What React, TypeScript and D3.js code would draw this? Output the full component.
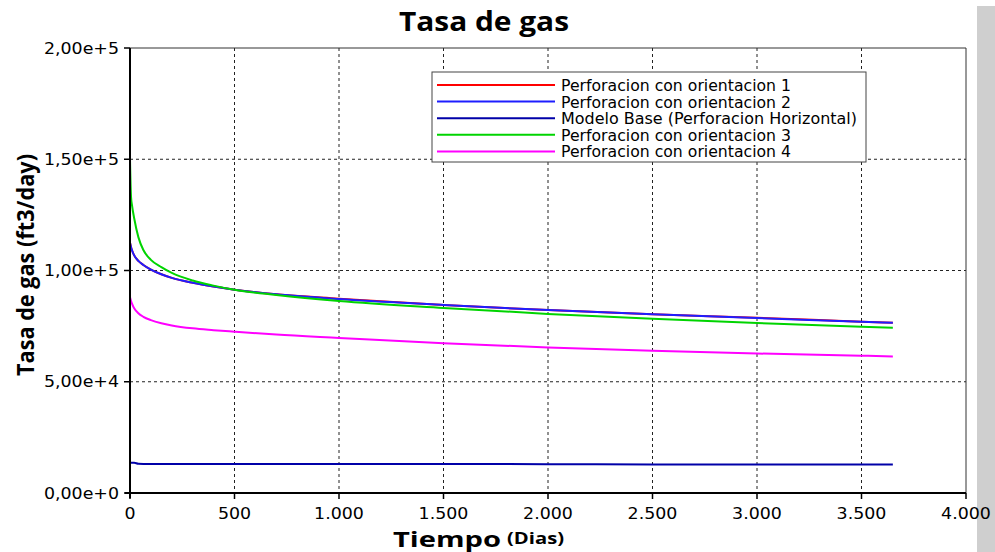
import React from "react";
import * as d3 from "d3";

const days = [0, 5, 10, 20, 40, 64, 100, 150, 200, 300, 400, 500, 700, 1000, 1500, 2000, 2500, 3000, 3500, 3650];
const orient1 = [112500, 110500, 109000, 106800, 104300, 102500, 100400, 98300, 96700, 94500, 92800, 91400, 89300, 87350, 84500, 82200, 80300, 78750, 77000, 76500];
const orient2 = [112500, 110500, 109000, 106800, 104300, 102500, 100400, 98300, 96700, 94500, 92800, 91400, 89300, 87200, 84500, 82200, 80300, 78600, 77000, 76500];
const baseModel = [13600, 13600, 13600, 13600, 13100, 13050, 13050, 13050, 13050, 13050, 13050, 13050, 13000, 13000, 13000, 12950, 12800, 12800, 12800, 12800];
const orient3 = [150000, 133000, 129000, 123500, 115000, 109200, 104800, 101500, 98900, 95500, 93200, 91300, 89000, 86300, 83200, 80500, 78300, 76400, 74700, 74300];
const orient4 = [88000, 86300, 85000, 83000, 80800, 79200, 77700, 76300, 75300, 74000, 73200, 72500, 71200, 69700, 67300, 65400, 63900, 62700, 61700, 61400];

const seriesNames = [
  "Perforacion con orientacion 1",
  "Perforacion con orientacion 2",
  "Modelo Base (Perforacion Horizontal)",
  "Perforacion con orientacion 3",
  "Perforacion con orientacion 4",
];
const seriesValues = [orient1, orient2, baseModel, orient3, orient4];
const seriesColors = ["#ff0000", "#1e1eff", "#0000a8", "#00d400", "#ff00ff"];
const legendWidths = [230, 230, 296, 230, 230];

const xTicks = [0, 500, 1000, 1500, 2000, 2500, 3000, 3500, 4000];
const yTicks = [0, 50000, 100000, 150000, 200000];

const titleText = "Tasa de gas";
const yLabel = "Tasa de gas (ft3/day)";
const xLabelMain = "Tiempo";
const xLabelUnit = "(Dias)";

const locale = d3.formatLocale({ decimal: ",", thousands: ".", grouping: [3], currency: ["", ""] });
const fmtX = locale.format(",");
const fmtY = (v: number) => v.toExponential(2).replace(".", ",");

export default function App() {
  const W = 995, H = 552;
  const x = d3.scaleLinear().domain([0, 4000]).range([130, 966]);
  const y = d3.scaleLinear().domain([0, 200000]).range([493, 48]);
  const line = d3
    .line<number>()
    .x((_, i) => x(days[i]))
    .y((d) => y(d))
    .curve(d3.curveMonotoneX);

  const sans = "'DejaVu Sans', sans-serif";
  const bold = "'Open Sans', sans-serif";
  const [x0, x1] = x.range();
  const [y0, y1] = y.range();

  const legX = 432, legY = 72, legW = 434, legH = 90;
  const rowH = 16.6;

  return (
    <svg width={W} height={H} style={{ position: "absolute", left: 0, top: 0, background: "#fff" }}>
      <rect x={0} y={0} width={W} height={H} fill="#fff" />
      {/* right gray strip */}
      <rect x={977} y={6} width={18} height={H - 6} fill="#cfcfcf" />
      {/* grid */}
      {xTicks.filter((t) => t > 0 && t < 4000).map((t) => (
        <line key={"gx" + t} x1={x(t)} x2={x(t)} y1={y1} y2={y0} stroke="#222" strokeWidth={1} strokeDasharray="3,3" />
      ))}
      {yTicks.filter((t) => t > 0 && t < 200000).map((t) => (
        <line key={"gy" + t} x1={x0} x2={x1} y1={y(t)} y2={y(t)} stroke="#222" strokeWidth={1} strokeDasharray="3,3" />
      ))}
      {/* frame */}
      <line x1={x0} x2={x1} y1={y1} y2={y1} stroke="#333" strokeWidth={1} />
      <line x1={x1} x2={x1} y1={y1} y2={y0} stroke="#333" strokeWidth={1} />

      {/* series */}
      {seriesValues.map((vals, i) => (
        <path key={"s" + i} d={line(vals) || ""} fill="none" stroke={seriesColors[i]} strokeWidth={2} />
      ))}

      {/* axes */}
      <line x1={x0} x2={x0} y1={y1} y2={y0 + 5} stroke="#000" strokeWidth={2} />
      <line x1={x0 - 5} x2={x1} y1={y0} y2={y0} stroke="#000" strokeWidth={2} />
      {yTicks.map((t) => (
        <g key={"yt" + t}>
          <line x1={x0 - 6} x2={x0} y1={y(t)} y2={y(t)} stroke="#000" strokeWidth={1.5} />
          <text
            transform={`translate(${x0 - 11},${y(t) + 5.5}) scale(1.16,1)`}
            textAnchor="end"
            fontFamily={sans}
            fontSize={15}
            fill="#000"
          >
            {fmtY(t)}
          </text>
        </g>
      ))}
      {xTicks.map((t) => (
        <g key={"xt" + t}>
          <line x1={x(t)} x2={x(t)} y1={y0} y2={y0 + 6} stroke="#000" strokeWidth={1.5} />
          <text
            transform={`translate(${x(t)},${519}) scale(1.16,1)`}
            textAnchor="middle"
            fontFamily={sans}
            fontSize={15}
            fill="#000"
          >
            {fmtX(t)}
          </text>
        </g>
      ))}

      {/* legend */}
      <rect x={legX} y={legY} width={legW} height={legH} fill="#fff" stroke="#444" strokeWidth={1} />
      {seriesNames.map((name, i) => {
        const ly = 85 + i * rowH;
        return (
          <g key={"lg" + i}>
            <line x1={437} x2={555} y1={ly} y2={ly} stroke={seriesColors[i]} strokeWidth={2} />
            <text
              x={561}
              y={ly + 6}
              fontFamily={sans}
              fontSize={15}
              fill="#000"
              textLength={legendWidths[i]}
              lengthAdjust="spacingAndGlyphs"
            >
              {name}
            </text>
          </g>
        );
      })}

      {/* titles */}
      <text x={399} y={31} fontFamily={bold} fontWeight={700} fontSize={26} fill="#000" textLength={170} lengthAdjust="spacingAndGlyphs">
        {titleText}
      </text>
      <text
        transform={`translate(34,376) rotate(-90)`}
        fontFamily={bold}
        fontWeight={700}
        fontSize={24}
        fill="#000"
        textLength={222}
        lengthAdjust="spacingAndGlyphs"
      >
        {yLabel}
      </text>
      <text x={393} y={547} fontFamily={bold} fontWeight={700} fontSize={22} fill="#000" textLength={108} lengthAdjust="spacingAndGlyphs">
        {xLabelMain}
      </text>
      <text x={507} y={544} fontFamily={bold} fontWeight={700} fontSize={16} fill="#000" textLength={57} lengthAdjust="spacingAndGlyphs">
        {xLabelUnit}
      </text>
    </svg>
  );
}
